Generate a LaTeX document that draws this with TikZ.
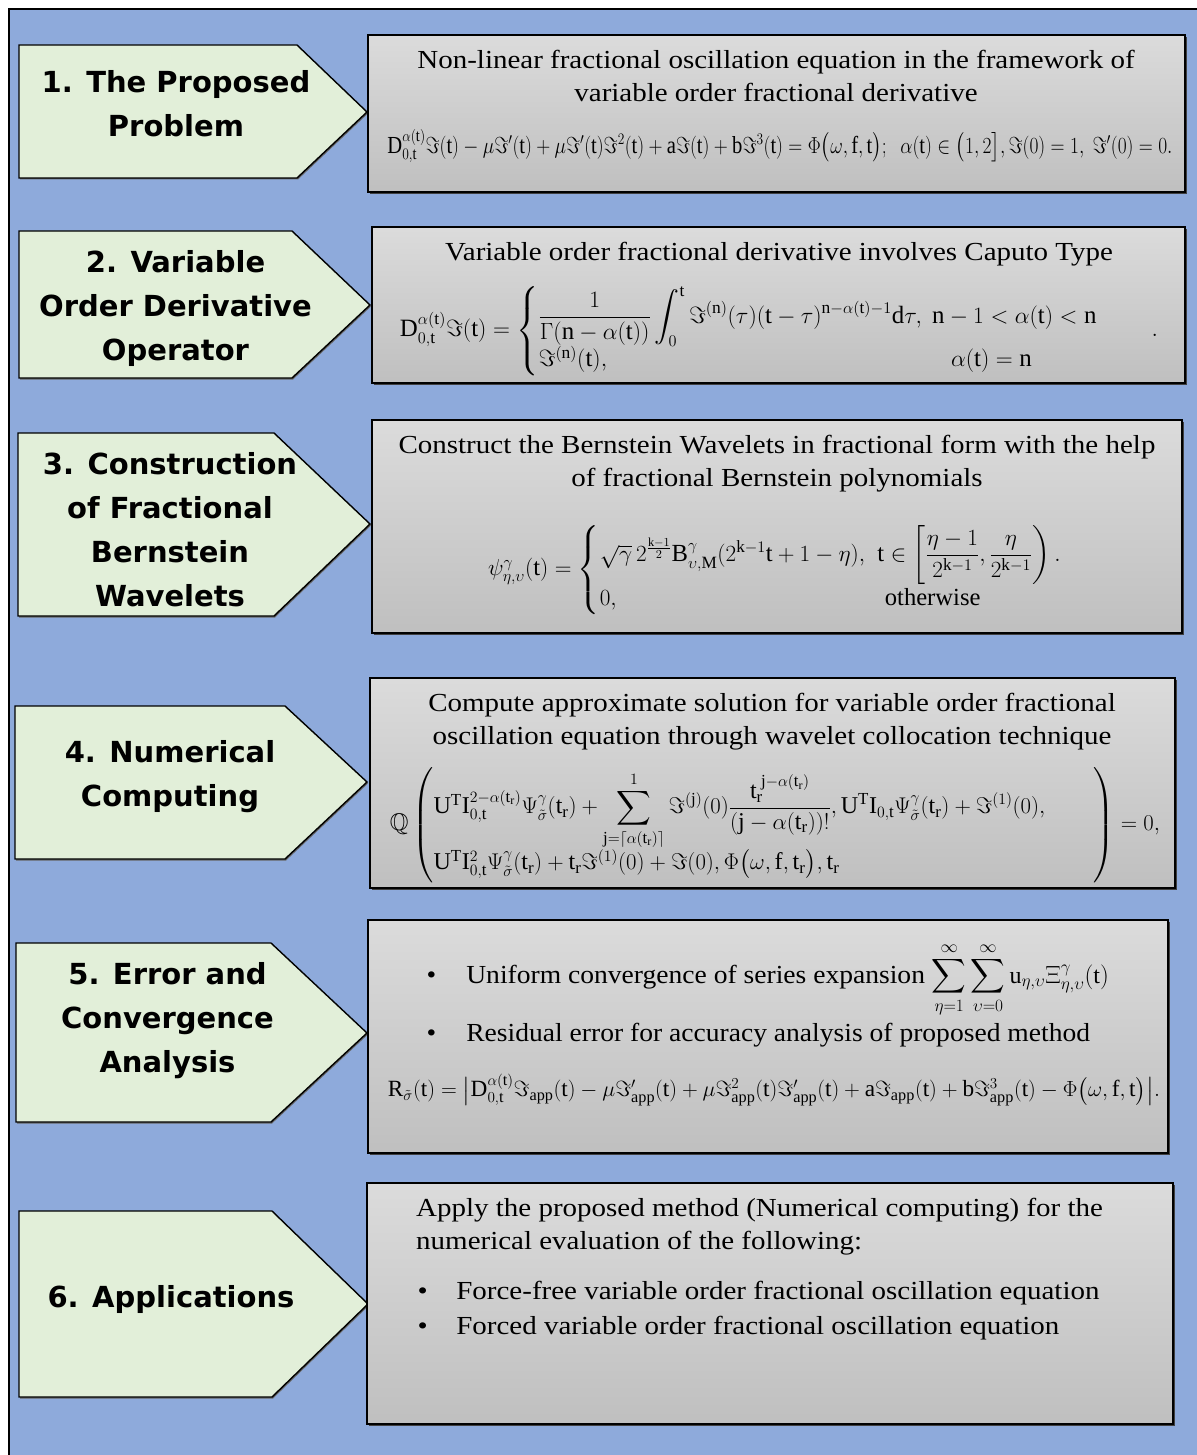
\documentclass[tikz,border=0pt]{standalone}
\usepackage{amsmath,amssymb}
\usepackage{graphicx}
\usepackage{fontspec}
\setmainfont{Liberation Serif}
\newfontfamily\bodyfont{Liberation Serif}[FakeStretch=1.115]
\newfontfamily\bulletfont{Liberation Serif}[FakeStretch=1.06]
\newfontfamily\titlefont{DejaVu Sans}
\usetikzlibrary{shadows}
\definecolor{bluebg}{HTML}{8EAADB}
\definecolor{tagfill}{HTML}{E2EFD9}
\makeatletter
\AtBeginDocument{%
  \count@=`a
  \loop \mathcode\count@=\numexpr"7000+\count@\relax
  \ifnum\count@<`z \advance\count@ by 1 \repeat
  \count@=`A
  \loop \mathcode\count@=\numexpr"7000+\count@\relax
  \ifnum\count@<`Z \advance\count@ by 1 \repeat
}
\makeatother
\begin{document}
\begin{tikzpicture}[x=1pt,y=-1pt,
  panel/.style={draw=black,line width=2.5pt,top color=black!14,bottom color=black!25,inner sep=0pt,
    general shadow={fill=black!75,shadow xshift=2pt,shadow yshift=-2pt}},
  tag/.style={draw=black,line width=1.4pt,fill=tagfill,line join=miter,
    general shadow={fill=black!60,shadow xshift=1pt,shadow yshift=-1.5pt}},
  ttl/.style={font=\titlefont\bfseries\fontsize{29}{44}\selectfont,align=center,inner sep=0pt},
  bodytxt/.style={font=\bodyfont\fontsize{26}{33}\selectfont,align=center,inner sep=0pt},
  bullettxt/.style={font=\bulletfont\fontsize{26}{33}\selectfont,inner sep=0pt},
  formula/.style={inner sep=0pt,font=\fontsize{22}{26}\selectfont}]
\useasboundingbox (0,0) rectangle (1196,1455);
\fill[white] (0,0) rectangle (1196,1455);
\draw[line width=2pt,fill=bluebg] (9,9) rectangle (1230,1490);

% tags
\draw[tag] (19,45) -- (297,45) -- (367,112) -- (297,178) -- (19,178) -- cycle;
\draw[tag] (19,231) -- (292,231) -- (370,305) -- (292,378) -- (19,378) -- cycle;
\draw[tag] (18,433) -- (274,433) -- (370,524) -- (274,616) -- (18,616) -- cycle;
\draw[tag] (15,706) -- (285,706) -- (367,782) -- (285,859) -- (15,859) -- cycle;
\draw[tag] (16,943) -- (271,943) -- (367,1033) -- (271,1122) -- (16,1122) -- cycle;
\draw[tag] (19,1211) -- (272,1211) -- (368,1304) -- (272,1397) -- (19,1397) -- cycle;

\node[ttl,anchor=north] (t1) at (176,70) {1. The Proposed\\Problem};
\node[ttl,anchor=north] (t2) at (175.5,250) {2. Variable\\Order Derivative\\Operator};
\node[ttl,anchor=north] (t3) at (170,452) {3. Construction\\of Fractional\\Bernstein\\Wavelets};
\node[ttl,anchor=north] (t4) at (170,740) {4. Numerical\\Computing};
\node[ttl,anchor=north] (t5) at (167.5,962) {5. Error and\\Convergence\\Analysis};
\node[ttl,anchor=base] (t6) at (171,1307) {6. Applications};

% panels
\node[panel,minimum width=817pt,minimum height=157pt] (p1) at (776.5,113.5) {};
\node[panel,minimum width=813pt,minimum height=156pt] (p2) at (778.5,305) {};
\node[panel,minimum width=810pt,minimum height=213pt] (p3) at (777,526.5) {};
\node[panel,minimum width=805pt,minimum height=210pt] (p4) at (772.5,783) {};
\node[panel,minimum width=800pt,minimum height=233pt] (p5) at (768,1036.5) {};
\node[panel,minimum width=806pt,minimum height=241pt] (p6) at (770,1303.5) {};

% panel 1
\node[bodytxt,anchor=north] (d1) at (776,50) {Non-linear fractional oscillation equation in the framework of\\variable order fractional derivative};
\node[formula] (f1) at (780,146) {\resizebox{785pt}{24pt}{$D^{\alpha(t)}_{0,t}\Im(t)-\mu\Im'(t)+\mu\Im'(t)\Im^2(t)+a\Im(t)+b\Im^3(t)=\Phi\bigl(\omega,f,t\bigr);\ \ \alpha(t)\in\bigl(1,2\bigr],\Im(0)=1,\ \Im'(0)=0.$}};

% panel 2
\node[bodytxt,anchor=base] (d2) at (779,260) {Variable order fractional derivative involves Caputo Type};
\node[formula] (f2) at (779,331) {\resizebox{758pt}{!}{$D^{\alpha(t)}_{0,t}\Im(t)=\left\{\begin{array}{@{}l@{}}\dfrac{1}{\Gamma(n-\alpha(t))}\displaystyle\int_0^t\Im^{(n)}(\tau)(t-\tau)^{n-\alpha(t)-1}d\tau,\ n-1<\alpha(t)<n\\[4pt]
\Im^{(n)}(t),\hfill\alpha(t)=n\hspace{2.6em}\end{array}\right.\qquad.$}};

% panel 3
\node[bodytxt,anchor=north] (d3) at (777,435) {Construct the Bernstein Wavelets in fractional form with the help\\of fractional Bernstein polynomials};
\node[formula] (f3) at (775,570) {\resizebox{574pt}{!}{$\psi^{\gamma}_{\eta,\upsilon}(t)=\left\{\begin{array}{@{}l@{\ \ }l@{}}\sqrt{\gamma}\,2^{\frac{k-1}{2}}B^{\gamma}_{\upsilon,M}(2^{k-1}t+1-\eta), & t\in\left[\dfrac{\eta-1}{2^{k-1}},\dfrac{\eta}{2^{k-1}}\right).\\[12pt]
0, & \hspace{0.3em}\text{otherwise}\end{array}\right.$}};

% panel 4
\node[bodytxt,anchor=north] (d4) at (772,693) {Compute approximate solution for variable order fractional\\oscillation equation through wavelet collocation technique};
\node[formula] (f4) at (775,825) {\resizebox{770pt}{!}{$\mathbb{Q}\left(\begin{array}{@{}l@{}}U^TI^{2-\alpha(t_r)}_{0,t}\Psi^{\gamma}_{\tilde\sigma}(t_r)+\displaystyle\sum_{j=\lceil\alpha(t_r)\rceil}^{1}\Im^{(j)}(0)\frac{t_r^{\;j-\alpha(t_r)}}{(j-\alpha(t_r))!},U^TI_{0,t}\Psi^{\gamma}_{\tilde\sigma}(t_r)+\Im^{(1)}(0),\\[2pt]
U^TI^2_{0,t}\Psi^{\gamma}_{\tilde\sigma}(t_r)+t_r\Im^{(1)}(0)+\Im(0),\Phi\bigl(\omega,f,t_r\bigr),t_r\end{array}\qquad\right)=0,$}};

% panel 5
\node[bullettxt,anchor=base west] (d5a) at (426.5,983) {\textbullet\hspace{30pt}Uniform convergence of series expansion \fontsize{24}{28}\selectfont$\displaystyle\sum_{\eta=1}^{\infty}\sum_{\upsilon=0}^{\infty}u_{\eta,\upsilon}\Xi^{\gamma}_{\eta,\upsilon}(t)$};
\node[bullettxt,anchor=base west] (d5b) at (426.5,1041) {\textbullet\hspace{30pt}Residual error for accuracy analysis of proposed method};
\node[formula] (f5) at (774,1090) {\resizebox{772pt}{!}{$R_{\tilde\sigma}(t)=\bigl|D^{\alpha(t)}_{0,t}\Im_{app}(t)-\mu\Im'_{app}(t)+\mu\Im^2_{app}(t)\Im'_{app}(t)+a\Im_{app}(t)+b\Im^3_{app}(t)-\Phi\bigl(\omega,f,t\bigr)\bigr|.$}};

% panel 6
\node[bodytxt,align=left,anchor=north west] (d6) at (416,1198) {Apply the proposed method (Numerical computing) for the\\numerical evaluation of the following:};
\node[bodytxt,anchor=base west] (d6a) at (417.5,1299) {\textbullet\hspace{28.5pt}Force-free variable order fractional oscillation equation};
\node[bodytxt,anchor=base west] (d6b) at (417.5,1334) {\textbullet\hspace{28.5pt}Forced variable order fractional oscillation equation};
\end{tikzpicture}
\end{document}
